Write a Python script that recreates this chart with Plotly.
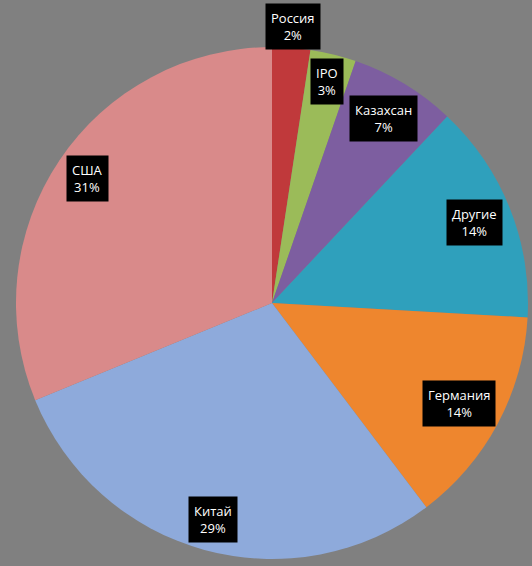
import math
import plotly.graph_objects as go

labels = ["Россия", "IPO", "Казахсан", "Другие", "Германия", "Китай", "США"]
values = [2.4, 2.9, 6.7, 13.9, 13.8, 29.1, 31.2]
pct_text = ["2%", "3%", "7%", "14%", "14%", "29%", "31%"]
colors = ["#C0393B", "#9BBB59", "#7D5EA0", "#2FA0BC", "#EE862E", "#8EAADB", "#D98A8A"]

W, H = 532, 566
CX, CY, R = 272, 303, 256
label_r = [1.085, 0.89, 0.84, 0.85, 0.83, 0.875, 0.87]

fig = go.Figure(go.Pie(
    labels=labels, values=values, sort=False, direction="clockwise", rotation=0,
    marker=dict(colors=colors, line=dict(width=0)),
    textinfo="none", hoverinfo="label+percent", showlegend=False,
    domain=dict(x=[(CX - R) / W, (CX + R) / W], y=[1 - (CY + R) / H, 1 - (CY - R) / H]),
))

total = sum(values)
cum = 0.0
for lab, v, t, fr in zip(labels, values, pct_text, label_r):
    mid = (cum + v / 2) / total * 2 * math.pi
    cum += v
    px = CX + fr * R * math.sin(mid)
    py = CY - fr * R * math.cos(mid)
    fig.add_annotation(
        x=px / W, y=1 - py / H, xref="paper", yref="paper",
        xanchor="center", yanchor="middle",
        text=f"{lab}<br>{t}", showarrow=False,
        font=dict(family="Open Sans, Liberation Sans, sans-serif", size=13, color="white"),
        bgcolor="black", borderpad=5, align="center",
    )

fig.update_layout(
    width=W, height=H, margin=dict(l=0, r=0, t=0, b=0),
    paper_bgcolor="#808080", plot_bgcolor="#808080",
)
fig.write_html("out.html")
